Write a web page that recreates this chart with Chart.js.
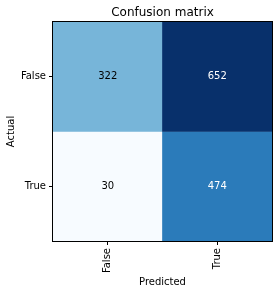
<!DOCTYPE html>
<html><head><meta charset="utf-8">
<script src="https://cdn.jsdelivr.net/npm/chart.js@4"></script>
<style>html,body{margin:0;padding:0;background:#fff}</style>
</head><body>
<canvas id="c" width="278" height="294" style="width:278px;height:294px;display:block"></canvas>
<script>
// ---- data ----
const predictedLabels = ["False", "True"];
const actualLabels = ["False", "True"];
const rowActualFalse = [322, 652];
const rowActualTrue = [30, 474];
const chartTitle = "Confusion matrix";
const xTitle = "Predicted";
const yTitle = "Actual";

const rows = [rowActualFalse, rowActualTrue];
const all = rows.flat();
const vmin = Math.min(...all), vmax = Math.max(...all);

// matplotlib "Blues" colormap anchors
const bluesStops = ["#f7fbff","#deebf7","#c6dbef","#9ecae1","#6baed6","#4292c6","#2171b5","#08519c","#08306b"];
function hex2rgb(h){return [1,3,5].map(i=>parseInt(h.substr(i,2),16));}
function blues(t){
  t = Math.max(0, Math.min(1, t));
  const p = t * (bluesStops.length - 1);
  const i = Math.min(Math.floor(p), bluesStops.length - 2);
  const f = p - i;
  const a = hex2rgb(bluesStops[i]), b = hex2rgb(bluesStops[i+1]);
  const c = a.map((v,k)=>Math.round(v + (b[k]-v)*f));
  return `rgb(${c[0]},${c[1]},${c[2]})`;
}
const norm = v => (v - vmin) / (vmax - vmin);

const datasets = rows.map((vals, i) => ({
  label: actualLabels[i],
  data: vals.map(() => [i, i + 1]),
  values: vals,
  backgroundColor: vals.map(v => blues(norm(v))),
  borderWidth: 0,
  barPercentage: 1,
  categoryPercentage: 1
}));

const FONT = "'DejaVu Sans', sans-serif";

const overlay = {
  id: 'overlay',
  afterDatasetsDraw(chart) {
    const ctx = chart.ctx;
    const xs = chart.scales.x, ys = chart.scales.y;
    ctx.save();
    ctx.font = "10px " + FONT;
    ctx.textAlign = 'center';
    ctx.textBaseline = 'middle';
    const thresh = (vmax + vmin) / 2;
    rows.forEach((vals, i) => {
      vals.forEach((v, j) => {
        ctx.fillStyle = v > thresh ? '#ffffff' : '#000000';
        ctx.fillText(String(v), xs.getPixelForValue(j), ys.getPixelForValue(i + 0.5));
      });
    });
    const a = chart.chartArea;
    ctx.strokeStyle = '#000';
    ctx.lineWidth = 1;
    ctx.strokeRect(Math.round(a.left) - 0.5, Math.round(a.top) - 0.5, Math.round(a.right - a.left) + 1, Math.round(a.bottom - a.top) + 1);
    ctx.font = "12px " + FONT;
    ctx.fillStyle = '#000';
    ctx.fillText(chartTitle, (a.left + a.right) / 2, 12.5);
    ctx.restore();
  }
};

new Chart(document.getElementById('c'), {
  type: 'bar',
  data: { labels: predictedLabels, datasets },
  options: {
    responsive: false,
    animation: false,
    devicePixelRatio: 1,
    layout: { padding: { top: 22, right: 6, left: 0, bottom: 0 } },
    plugins: { legend: { display: false }, tooltip: { enabled: false }, title: { display: false } },
    scales: {
      x: {
        type: 'category',
        stacked: true,
        offset: true,
        grid: { display: true, drawOnChartArea: false, offset: false, tickLength: 4, tickColor: '#000', tickWidth: 1 },
        border: { display: false },
        ticks: { color: '#000', font: { family: FONT, size: 10 }, minRotation: 90, maxRotation: 90, padding: 3 },
        title: { display: true, text: xTitle, color: '#000', font: { family: FONT, size: 10 }, padding: { top: 4, bottom: 6 } },
        afterFit(s) { s.height = 53; }
      },
      y: {
        type: 'linear',
        stacked: false,
        min: 0, max: actualLabels.length,
        reverse: true,
        afterBuildTicks(s) { s.ticks = actualLabels.map((_, i) => ({ value: i + 0.5 })); },
        grid: { display: true, drawOnChartArea: false, tickLength: 4, tickColor: '#000', tickWidth: 1 },
        border: { display: false },
        ticks: { color: '#000', font: { family: FONT, size: 10 }, padding: 3, callback: (v) => actualLabels[Math.floor(v)] },
        title: { display: true, text: yTitle, color: '#000', font: { family: FONT, size: 10 }, padding: { top: 5, bottom: 4 } },
        afterFit(s) { s.width = 53; }
      }
    }
  },
  plugins: [overlay]
});
</script>
</body></html>
